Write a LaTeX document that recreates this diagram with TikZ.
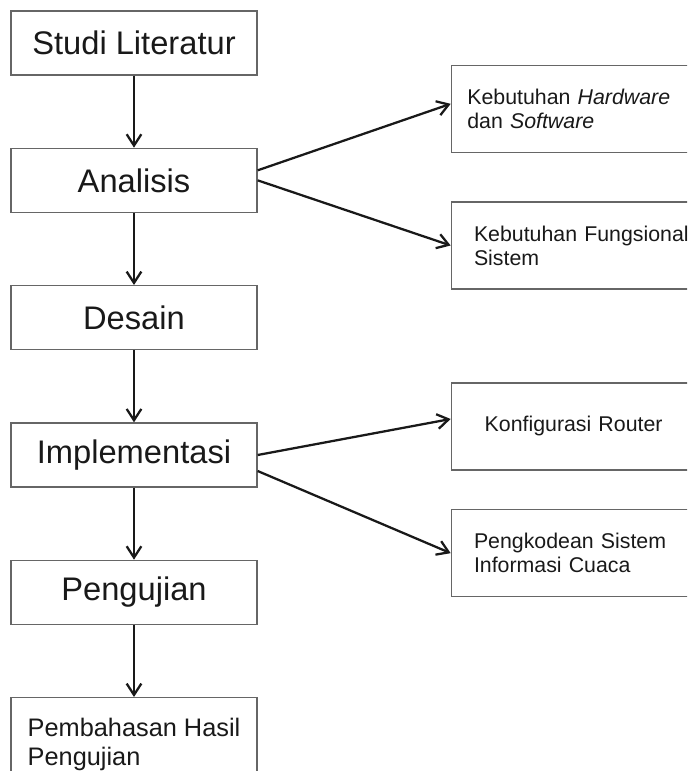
\documentclass[tikz,border=0pt]{standalone}
\usepackage{fontspec}
\setmainfont{Liberation Sans}
\usetikzlibrary{arrows.meta, positioning}

\begin{document}
\begin{tikzpicture}[
  font=\fontsize{24.5}{29}\selectfont,
  arrow/.style={-{Straight Barb[length=8.5pt, width=11pt]}, line width=1.7pt, draw=black!90},
  box/.style={draw=black!60, line width=1pt, text=black!90, align=center, minimum width=184.5pt, minimum height=48pt, inner sep=0pt},
  sidebox/.style={draw=black!60, line width=1pt, text=black!90, align=left, text width=200pt, minimum height=65.25pt, inner ysep=0pt, font=\fontsize{16}{18}\selectfont},
  node distance=54pt and 145pt
]

% page frame (right boxes run past the edge)
\clip (0,0) rectangle (515.25pt,-578.25pt);

% =========================
% Main column
% =========================
\node[box] (studi) at (100.5pt,-32.25pt) {Studi Literatur};
\node[box, below=of studi] (analisis) {Analisis};
\node[box, below=of analisis] (desain) {Desain};
\node[box, below=of desain] (impl) {Implementasi};
\node[box, below=of impl] (uji) {Pengujian};
\node[box, below=of uji, minimum height=70pt, align=left, font=\fontsize{19}{21.5}\selectfont] (bahas) {
Pembahasan Hasil\\
Pengujian
};

\draw[arrow] (studi.south) -- (analisis.north);
\draw[arrow] (analisis.south) -- (desain.north);
\draw[arrow] (desain.south) -- (impl.north);
\draw[arrow] (impl.south) -- (uji.north);
\draw[arrow] (uji.south) -- (bahas.north);

% =========================
% Analisis branches
% =========================
\node[sidebox, above right=20.25pt and 144.75pt of analisis.east, inner xsep=12pt] (hw_sw) {
Kebutuhan \textit{Hardware}\\
dan \textit{Software}
};
\node[sidebox, below right=15.75pt and 144.75pt of analisis.east, inner xsep=17pt] (fungsional) {
Kebutuhan Fungsional\\
Sistem
};

\draw[arrow] ([yshift=7.5pt]analisis.east) -- ([yshift=4pt]hw_sw.west);
\draw[arrow] (analisis.east) -- (fungsional.west);

% =========================
% Implementasi branches
% =========================
\node[sidebox, right=144.75pt of impl.east, yshift=21.4pt, inner xsep=25pt] (router) {Konfigurasi Router};
\node[sidebox, below right=40.5pt and 144.75pt of impl.east, inner xsep=17pt] (kode) {
Pengkodean Sistem\\
Informasi Cuaca
};

\draw[arrow] (impl.east) -- ([yshift=5.6pt]router.west);
\draw[arrow] ([yshift=-12pt]impl.east) -- (kode.west);

\end{tikzpicture}
\end{document}
